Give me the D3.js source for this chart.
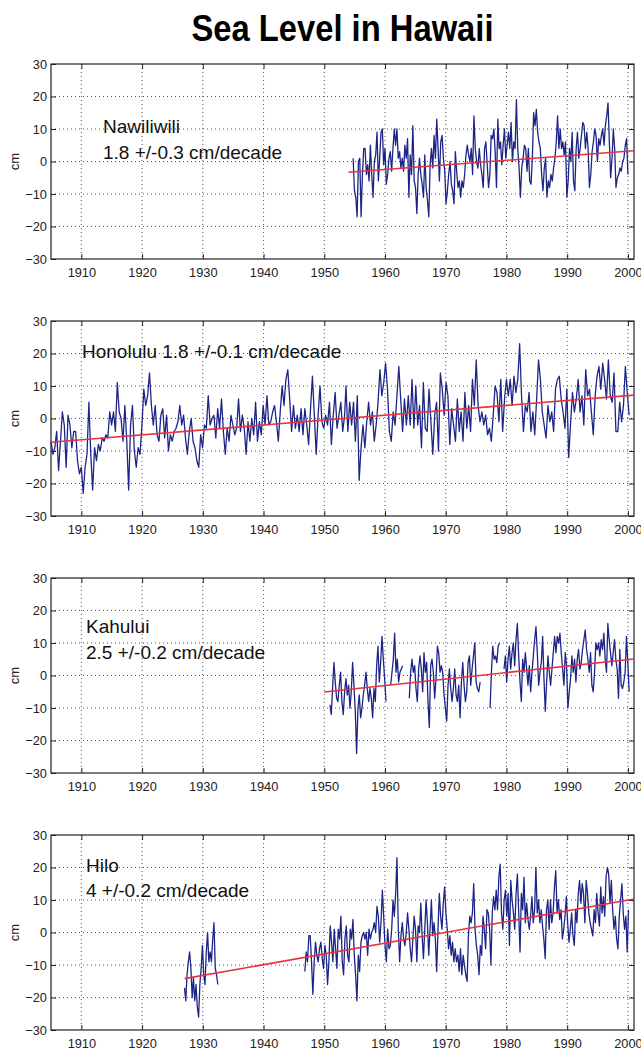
<!DOCTYPE html>
<html>
<head>
<meta charset="utf-8">
<script src="https://cdn.jsdelivr.net/npm/d3@7"></script>
<style>
  body { margin: 0; background: #fff; }
  .tick text { font-family: "Liberation Sans", Arial, sans-serif; font-size: 12.8px; fill: #222; }
</style>
</head>
<body>
<div id="chart"></div>
<script>
// ---- data (cm, monthly-ish samples) ----

var years = [1910, 1920, 1930, 1940, 1950, 1960, 1970, 1980, 1990, 2000];
var cmTicks = [-30, -20, -10, 0, 10, 20, 30];

var stationNames = ["Nawiliwili", "Honolulu", "Kahului", "Hilo"];
var stationRates = ["1.8 +/-0.3 cm/decade", "1.8 +/-0.1 cm/decade", "2.5 +/-0.2 cm/decade", "4 +/-0.2 cm/decade"];

// each segment: [startYear, endYear, values]
var nawiliwili = [
  [1954.75, 2000.0, [1,-9,-11,-17,0,1,-17,-4,4,4,-4,-1,-6,5,-4,-11,0,2,9,-6,1,9,10,-1,4,-7,-4,1,3,-3,4,10,5,10,1,3,-2,1,-3,5,1,7,-11,2,-4,11,-6,-8,-16,-4,1,-4,-7,-11,2,-8,-12,-17,-1,4,-2,8,1,13,4,-6,6,8,1,-3,-13,-9,-4,0,-7,-9,-13,3,-3,-8,-6,-11,-6,-8,-4,2,5,2,0,4,-4,14,4,0,-2,4,-1,-4,-8,4,6,-1,-8,-4,8,7,10,3,-8,13,4,6,-1,5,10,1,5,9,4,12,0,6,4,19,4,-2,-11,-2,1,5,4,-3,4,-6,-7,1,15,11,16,9,6,4,-4,-9,-2,1,-11,-6,-8,-4,-6,-2,1,6,14,4,10,4,6,2,6,-11,-6,4,0,9,-6,-9,4,9,1,4,8,12,11,4,9,4,-8,-4,3,6,10,8,0,7,5,8,10,5,11,14,18,6,-5,1,10,4,-8,-5,-4,-2,-3,0,1,5,7,-4]]
];

var honolulu = [
  [1905.0, 1953.35, [-7,-11,-9,-4,-16,-7,2,-2,-15,1,-2,-9,-4,-4,-13,-17,-15,-23,-15,-11,5,-11,-22,-9,-13,-8,-10,-6,-7,-5,-6,2,-2,2,-4,11,2,0,-7,4,-7,-22,-2,4,-10,-15,-9,-11,-2,9,4,7,14,4,-2,4,-5,-7,1,3,-6,1,-10,-5,-7,-4,-3,-1,4,-2,1,-6,-11,-4,0,-7,-9,-13,-15,-5,-9,-2,-3,7,-2,0,1,-6,3,-3,6,-4,-11,-3,-7,1,-2,-5,-3,6,-4,1,-3,-11,-1,-7,0,-5,5,-7,-1,-5,4,-2,7,-2,-1,2,4,-1,-7,2,10,4,12,15,6,-4,4,-3,1,-4,3,-5,3,-2,-8,3,13,1,-11,1,10,-1,-3,1,-2,5,-8,1,8,-3,1,5,-4,1]],
  [1953.57, 2000.2, [10,-4,5,-2,5,-7,7,-19,-9,-2,-9,-1,5,-2,2,-7,-2,5,15,7,11,17,9,-4,-7,2,-2,7,16,6,-4,6,-2,7,-2,12,-3,10,-2,4,-9,11,-3,-4,9,-1,-11,1,5,-10,14,9,1,11,7,-8,3,-2,-7,6,-4,2,-7,8,-3,4,-4,12,4,18,4,-1,2,-2,1,-5,-3,-7,1,10,8,-1,12,-4,6,12,7,12,4,13,8,12,23,7,-4,4,2,8,-4,2,-5,6,18,12,2,-2,-6,4,-1,2,-4,9,12,13,6,2,-3,9,-12,-1,8,2,6,12,2,7,-2,15,7,9,2,-5,7,13,16,9,17,12,6,18,7,5,14,-4,-4,5,-1,4,16,8,1]]
];

var kahului = [
  [1950.93, 1960.16, [-9,-12,-4,4,-2,-7,-8,-3,1,-8,-12,-5,-1,-6,-3,-10,-5,4,-3,-11,-24,-10,-6,-13,-10,-6,-3,1,-4,-8,-4,-7,-13,-4,-8,3,9,-2,4,12,5,-1,-8]],
  [1960.93, 1962.9, [-3,1,5,13,1,5,-2,1,2,3]],
  [1964.0, 1975.66, [-7,1,5,1,3,-4,-8,2,6,2,-5,7,1,4,-8,-16,3,5,1,-7,-1,9,7,1,3,1,-6,-10,-14,-3,2,-4,-8,-4,2,-6,-8,-3,-13,-2,4,-3,-8,-5,4,6,-3,2,6,10,-2,-4,-5,-2]],
  [1977.3, 1978.85, [-10,1,9,5,6,4,9,10]],
  [1979.6, 2000.2, [2,6,-2,5,9,2,7,10,3,11,16,6,-2,-8,5,1,7,2,-3,3,-5,1,6,11,15,7,-3,1,4,12,-1,-11,-2,6,1,-3,2,7,12,7,12,10,13,7,2,-3,7,3,-10,-5,-1,6,1,5,-2,5,8,2,4,8,11,14,8,5,1,7,-3,-5,1,10,8,10,6,11,8,13,5,1,16,11,7,3,7,11,5,2,-7,8,-3,-4,-2,1,12,4,-5]]
];

var hilo = [
  [1926.98, 1932.47, [-17,-21,-13,-9,-6,-11,-20,-14,-21,-16,-23,-26,-16,-11,-4,-13,-16,-6,0,-9,-6,-9,-2,3,-11,-13,-16]],
  [1946.8, 1960.88, [-12,-6,-9,-1,-1,-9,-19,-9,-3,-7,-9,-5,-3,-8,-11,-4,-7,-16,-9,2,-3,-9,1,-5,-11,1,-2,5,-9,-13,-2,2,-7,-9,1,-2,4,-7,-13,-21,-7,-12,-3,-1,0,-2,0,-7,1,-2,0,1,3,0,8,5,-3,3,13,5,-4,-9,1,-5,-4]],
  [1961.1, 2000.1, [1,10,5,12,23,1,-9,-1,3,-2,-4,0,6,1,-5,-9,-2,5,1,-9,2,0,9,-1,-8,1,10,3,-7,1,10,-1,3,-2,-12,1,12,5,1,9,14,6,1,-5,-1,-7,-3,-9,-5,-9,-7,-12,-5,-13,-7,-10,-13,-15,-1,5,3,6,15,1,-4,-7,-13,-4,-7,5,1,-5,7,6,1,-10,6,11,7,13,7,17,21,6,1,10,13,5,12,-4,16,10,6,1,12,18,6,-6,12,7,17,3,9,4,1,5,11,3,7,20,6,10,3,7,2,-2,-8,7,10,1,10,3,6,14,19,6,10,4,7,-2,1,5,11,3,-3,1,6,-1,-4,7,3,12,16,9,15,12,3,16,12,6,3,1,-1,7,3,12,6,2,14,6,11,5,17,20,18,9,16,7,1,5,-2,-5,5,10,15,6,1,5,-6,7]]
];

// linear trend end points [year, cm]
var trends = [
  [[1954.0, -3.3], [2000.9, 3.3]],
  [[1905.0, -7.3], [2001.0, 7.2]],
  [[1950.0, -5.1], [2001.0, 5.1]],
  [[1927.0, -14.2], [2001.0, 10.3]]
];

var series = [nawiliwili, honolulu, kahului, hilo];

// ---- layout ----
var svgWidth = 641;
var svgHeight = 1050;
var panelTops = [64, 321, 578, 835];
var panelHeight = 195;
var plotLeft = 51;
var plotRight = 634;

// label placement per panel: [x, baseline of first line, gap to second line (0 = one line)]
var labelPos = [[103, 68.7, 26.6], [82, 36.7, 0], [86, 54.5, 26], [86, 36.7, 25.6]];

var svg = d3.select("#chart")
  .append("svg")
  .attr("width", svgWidth)
  .attr("height", svgHeight)
  .style("background", "#fff");

// title: condensed bold look by squeezing Liberation Sans Bold
svg.append("text")
  .attr("x", 342.5)
  .attr("y", 40.7)
  .attr("text-anchor", "middle")
  .attr("textLength", 302)
  .attr("lengthAdjust", "spacingAndGlyphs")
  .style("font-family", "'Liberation Sans', Arial, sans-serif")
  .style("font-weight", "bold")
  .style("font-size", "37px")
  .style("fill", "#000")
  .text("Sea Level in Hawaii");

var xScale = d3.scaleLinear().domain([1905, 2001]).range([plotLeft, plotRight]);

// turn segments into points, break the line where there is a gap
function toPoints(segments) {
  var pts = [];
  segments.forEach(function(seg, k) {
    var start = seg[0], end = seg[1], vals = seg[2];
    if (k > 0 && start - segments[k - 1][1] > 0.5) pts.push({ year: null, cm: null });
    vals.forEach(function(v, i) {
      pts.push({ year: start + i * (end - start) / (vals.length - 1), cm: v });
    });
  });
  return pts;
}

series.forEach(function(segments, p) {
  var top = panelTops[p];
  var bottom = top + panelHeight;
  var yScale = d3.scaleLinear().domain([-30, 30]).range([bottom, top]);

  var g = svg.append("g");

  // dotted grid
  g.append("g").selectAll("line")
    .data(years)
    .enter()
    .append("line")
    .attr("x1", d => xScale(d)).attr("x2", d => xScale(d))
    .attr("y1", top).attr("y2", bottom)
    .attr("stroke", "#444").attr("stroke-width", 0.9)
    .attr("stroke-dasharray", "1,3");

  g.append("g").selectAll("line")
    .data(cmTicks.slice(1, -1))
    .enter()
    .append("line")
    .attr("x1", plotLeft).attr("x2", plotRight)
    .attr("y1", d => yScale(d)).attr("y2", d => yScale(d))
    .attr("stroke", "#444").attr("stroke-width", 0.9)
    .attr("stroke-dasharray", "1,3");

  // axes with inward ticks (matlab style)
  var bottomAxis = d3.axisBottom(xScale).tickValues(years).tickFormat(d3.format("d"))
    .tickSizeInner(-5).tickSizeOuter(0).tickPadding(9);
  var topAxis = d3.axisTop(xScale).tickValues(years).tickFormat("")
    .tickSizeInner(-5).tickSizeOuter(0);
  var leftAxis = d3.axisLeft(yScale).tickValues(cmTicks)
    .tickSizeInner(-5).tickSizeOuter(0).tickPadding(4);
  var rightAxis = d3.axisRight(yScale).tickValues(cmTicks).tickFormat("")
    .tickSizeInner(-5).tickSizeOuter(0);

  g.append("g").attr("transform", `translate(0, ${bottom})`).call(bottomAxis);
  g.append("g").attr("transform", `translate(0, ${top})`).call(topAxis);
  g.append("g").attr("transform", `translate(${plotLeft}, 0)`).call(leftAxis);
  g.append("g").attr("transform", `translate(${plotRight}, 0)`).call(rightAxis);
  g.selectAll(".domain").remove();
  g.selectAll(".tick line").attr("stroke", "#222").attr("stroke-width", 1);

  // frame
  g.append("rect")
    .attr("x", plotLeft).attr("y", top)
    .attr("width", plotRight - plotLeft).attr("height", panelHeight)
    .attr("fill", "none").attr("stroke", "#222").attr("stroke-width", 1.2);

  // y label
  g.append("text")
    .attr("transform", `translate(19, ${yScale(0)}) rotate(-90)`)
    .attr("text-anchor", "middle")
    .style("font-family", "'Liberation Sans', Arial, sans-serif")
    .style("font-size", "13px")
    .style("fill", "#222")
    .text("cm");

  // sea level series
  var line = d3.line()
    .defined(d => d.cm !== null)
    .x(d => xScale(d.year))
    .y(d => yScale(d.cm));

  g.append("path")
    .datum(toPoints(segments))
    .attr("d", line)
    .attr("fill", "none")
    .attr("stroke", "#1c2585")
    .attr("stroke-width", 1.3)
    .attr("stroke-linejoin", "round");

  // trend
  g.append("line")
    .attr("x1", xScale(trends[p][0][0])).attr("y1", yScale(trends[p][0][1]))
    .attr("x2", xScale(trends[p][1][0])).attr("y2", yScale(trends[p][1][1]))
    .attr("stroke", "#e8323e")
    .attr("stroke-width", 1.6);

  // station label
  var lp = labelPos[p];
  var label = g.append("text")
    .attr("x", lp[0])
    .attr("y", top + lp[1])
    .style("font-family", "'Liberation Sans', Arial, sans-serif")
    .style("font-size", "19px")
    .style("fill", "#111");
  if (lp[2] === 0) {
    label.text(stationNames[p] + " " + stationRates[p]);
  } else {
    label.append("tspan").attr("x", lp[0]).text(stationNames[p]);
    label.append("tspan").attr("x", lp[0]).attr("dy", lp[2]).text(stationRates[p]);
  }
});
</script>
</body>
</html>
